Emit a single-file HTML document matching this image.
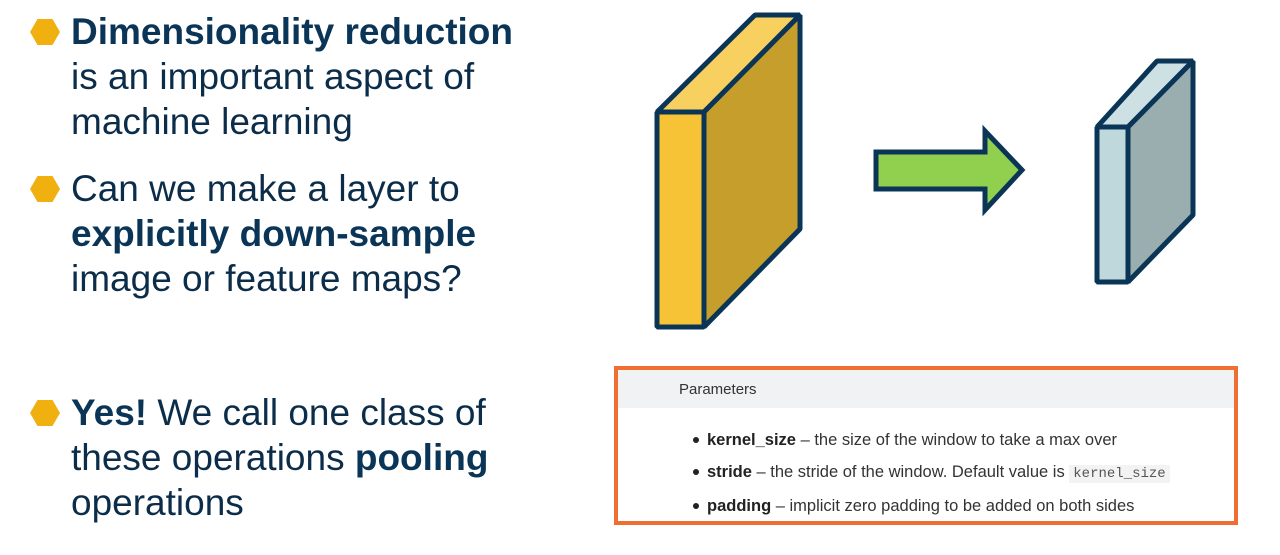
<!DOCTYPE html>
<html><head><meta charset="utf-8"><style>
body{margin:0;width:1280px;height:555px;background:#fff;position:relative;overflow:hidden;font-family:"Liberation Sans",sans-serif}
.t{position:absolute;left:71px;font-size:37px;color:#0c2d4a;line-height:45px;margin:0}
.t b{color:#0b3557}
.hex{position:absolute;left:30px;width:30px;height:26px;background:#f0b110;clip-path:polygon(25% 0,75% 0,100% 50%,75% 100%,25% 100%,0 50%)}
.box{position:absolute;left:614px;top:366px;width:616px;height:151px;border:4px solid #ef6f33;background:#fff}
.hd{height:38px;background:#f1f2f4;font-size:15px;color:#333;line-height:40px;padding-left:61px}
.li{position:absolute;left:89px;font-size:16.5px;color:#333;white-space:nowrap}
.li:before{content:"";position:absolute;left:-14px;top:6px;width:6px;height:6px;border-radius:50%;background:#222}
.li b{color:#222}
code{font-family:"Liberation Mono",monospace;font-size:14px;background:#f3f3f3;color:#555;padding:1px 4px}
</style></head><body>
<div class="hex" style="top:19px"></div>
<div class="t" style="top:9px"><b>Dimensionality reduction</b><br>is an important aspect of<br>machine learning</div>
<div class="hex" style="top:176px"></div>
<div class="t" style="top:166px">Can we make a layer to<br><b>explicitly down-sample</b><br>image or feature maps?</div>
<div class="hex" style="top:400px"></div>
<div class="t" style="top:390px"><b>Yes!</b> We call one class of<br>these operations <b>pooling</b><br>operations</div>
<svg style="position:absolute;left:0;top:0" width="1280" height="555">
<g stroke="#0b3557" stroke-width="5" stroke-linejoin="bevel">
<polygon points="657,112 755,15 800,15 704,112" fill="#f7d060"/>
<polygon points="704,112 800,15 800,229 704,327" fill="#c69e2c"/>
<rect x="657" y="112" width="47" height="215" fill="#f6c336"/>
<polygon points="876,152 985,152 985,131 1022,170 985,210 985,189 876,189" fill="#91d04f" stroke-linejoin="miter"/>
<polygon points="1097,127 1157,61 1193,61 1128,127" fill="#cde0e4"/>
<polygon points="1128,127 1193,61 1193,215 1128,282" fill="#9aadaf"/>
<rect x="1097" y="127" width="31" height="155" fill="#bfd8dc"/>
</g></svg>
<div class="box">
<div class="hd">Parameters</div>
<div class="li" style="top:61px"><b>kernel_size</b> – the size of the window to take a max over</div>
<div class="li" style="top:93px"><b>stride</b> – the stride of the window. Default value is <code>kernel_size</code></div>
<div class="li" style="top:127px"><b>padding</b> – implicit zero padding to be added on both sides</div>
</div>
</body></html>
